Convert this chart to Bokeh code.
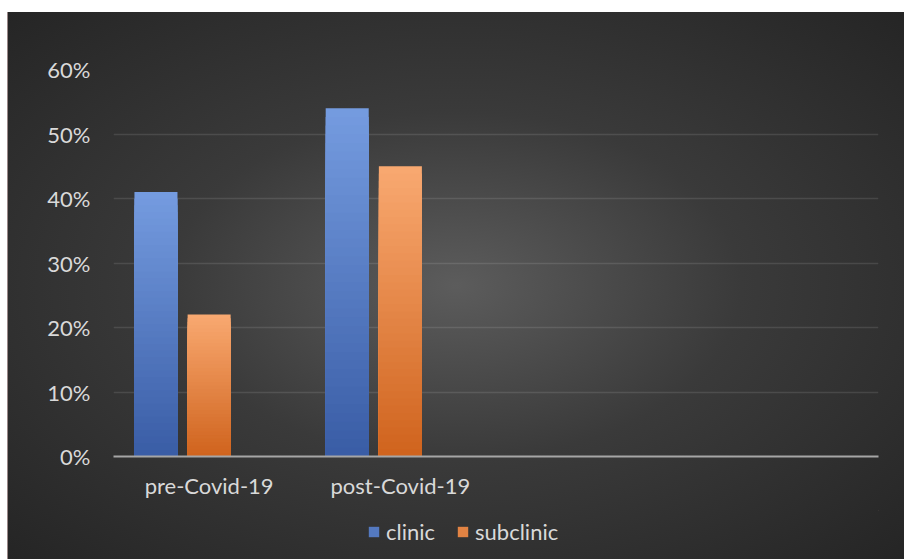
from bokeh.plotting import figure
from bokeh.layouts import column
from bokeh.models import (ColumnDataSource, FactorRange, FixedTicker, NumeralTickFormatter,
                          Legend, LegendItem)
from bokeh.transform import dodge
from bokeh.embed import file_html
from bokeh.resources import INLINE

# ---- data ----
categories = ["pre-Covid-19", "post-Covid-19", " ", "  "]
clinic = [0.41, 0.54, 0.0, 0.0]
subclinic = [0.22, 0.45, 0.0, 0.0]
y_ticks = [0.0, 0.1, 0.2, 0.3, 0.4, 0.5, 0.6]
series_names = ["clinic", "subclinic"]

# ---- styles ----
FONT = "Lato"
TEXT_COLOR = "#d9d9d9"
blue_top, blue_bot = (116, 155, 223), (58, 93, 166)
orange_top, orange_bot = (248, 168, 112), (208, 100, 30)
N_STEPS = 40

p = figure(width=904, height=510, x_range=FactorRange(*categories, range_padding=0),
           y_range=(0, 0.6), output_backend="svg", toolbar_location=None,
           min_border_left=113, min_border_right=26, min_border_top=69, min_border_bottom=54)
p.background_fill_color = None
p.border_fill_color = None
p.outline_line_color = None


def hexc(c):
    return "#%02x%02x%02x" % tuple(int(round(v)) for v in c)


def gradient_bars(values, offset, top, bot):
    xs, tops, cols = [], [], []
    for k in range(N_STEPS):
        t = k / (N_STEPS - 1)
        col = hexc([top[i] + (bot[i] - top[i]) * t for i in range(3)])
        frac = (N_STEPS - k) / N_STEPS
        for cat, v in zip(categories, values):
            if v <= 0:
                continue
            xs.append(cat)
            tops.append(v * frac)
            cols.append(col)
    src = ColumnDataSource(dict(cat=xs, top=tops, color=cols))
    r = p.vbar(x=dodge("cat", offset, range=p.x_range), top="top", bottom=0, width=0.225,
               source=src, fill_color="color", line_color=None)
    mid = hexc([top[i] * 0.45 + bot[i] * 0.55 for i in range(3)])
    return r, mid


r1, c1 = gradient_bars(clinic, -0.278, blue_top, blue_bot)
r2, c2 = gradient_bars(subclinic, 0.0, orange_top, orange_bot)

# axes
p.yaxis.ticker = FixedTicker(ticks=y_ticks)
p.yaxis.formatter = NumeralTickFormatter(format="0%")
p.yaxis.axis_line_color = None
p.yaxis.major_tick_line_color = None
p.yaxis.minor_tick_line_color = None
p.yaxis.major_label_standoff = 17
p.yaxis.major_label_text_font = FONT
p.yaxis.major_label_text_font_size = "22px"
p.yaxis.major_label_text_color = TEXT_COLOR

p.xaxis.axis_line_color = "#a6a6a6"
p.xaxis.axis_line_width = 2
p.xaxis.major_tick_line_color = None
p.xaxis.minor_tick_line_color = None
p.xaxis.major_label_standoff = 9
p.xaxis.major_label_text_font = FONT
p.xaxis.major_label_text_font_size = "22px"
p.xaxis.major_label_text_color = TEXT_COLOR

p.xgrid.grid_line_color = None
p.ygrid.grid_line_color = "#ffffff"
p.ygrid.grid_line_alpha = 0.11
p.ygrid.grid_line_width = 1.5

# ---- legend strip (frame aligned with the chart above) ----
lg = figure(width=904, height=49, x_range=(0, 1), y_range=(0, 1), output_backend="svg",
            toolbar_location=None, min_border=0)
lg.axis.visible = False
lg.grid.visible = False
lg.background_fill_color = None
lg.border_fill_color = None
lg.outline_line_color = None
# legend-key renderers: placed outside the visible range, only their style is used
e1 = lg.vbar(x=[5], top=[5], bottom=[4], width=0.1, fill_color=c1, line_color=None)
e2 = lg.vbar(x=[5], top=[5], bottom=[4], width=0.1, fill_color=c2, line_color=None)
legend = Legend(items=[LegendItem(label=series_names[0], renderers=[e1]),
                       LegendItem(label=series_names[1], renderers=[e2])],
                orientation="horizontal", location=(254, 14),
                background_fill_alpha=0, border_line_color=None,
                padding=0, margin=0, spacing=21, label_standoff=6,
                glyph_width=13, glyph_height=13, label_height=20,
                label_text_font=FONT, label_text_font_size="22px", label_text_color=TEXT_COLOR)
lg.add_layout(legend, "center")

layout = column(p, lg, spacing=0)
layout.styles = {
    "background": ("linear-gradient(#9a8888,#9a8888) 7px 12px / 1px 547px no-repeat, "
                   "radial-gradient(ellipse farthest-corner at 50% 50%, #5c5c5c 0%, #3a3a3a 45%, #252525 100%) "
                   "8px 12px / 896px 547px no-repeat, #ffffff")
}

open("out.html", "w").write(file_html(layout, INLINE))
